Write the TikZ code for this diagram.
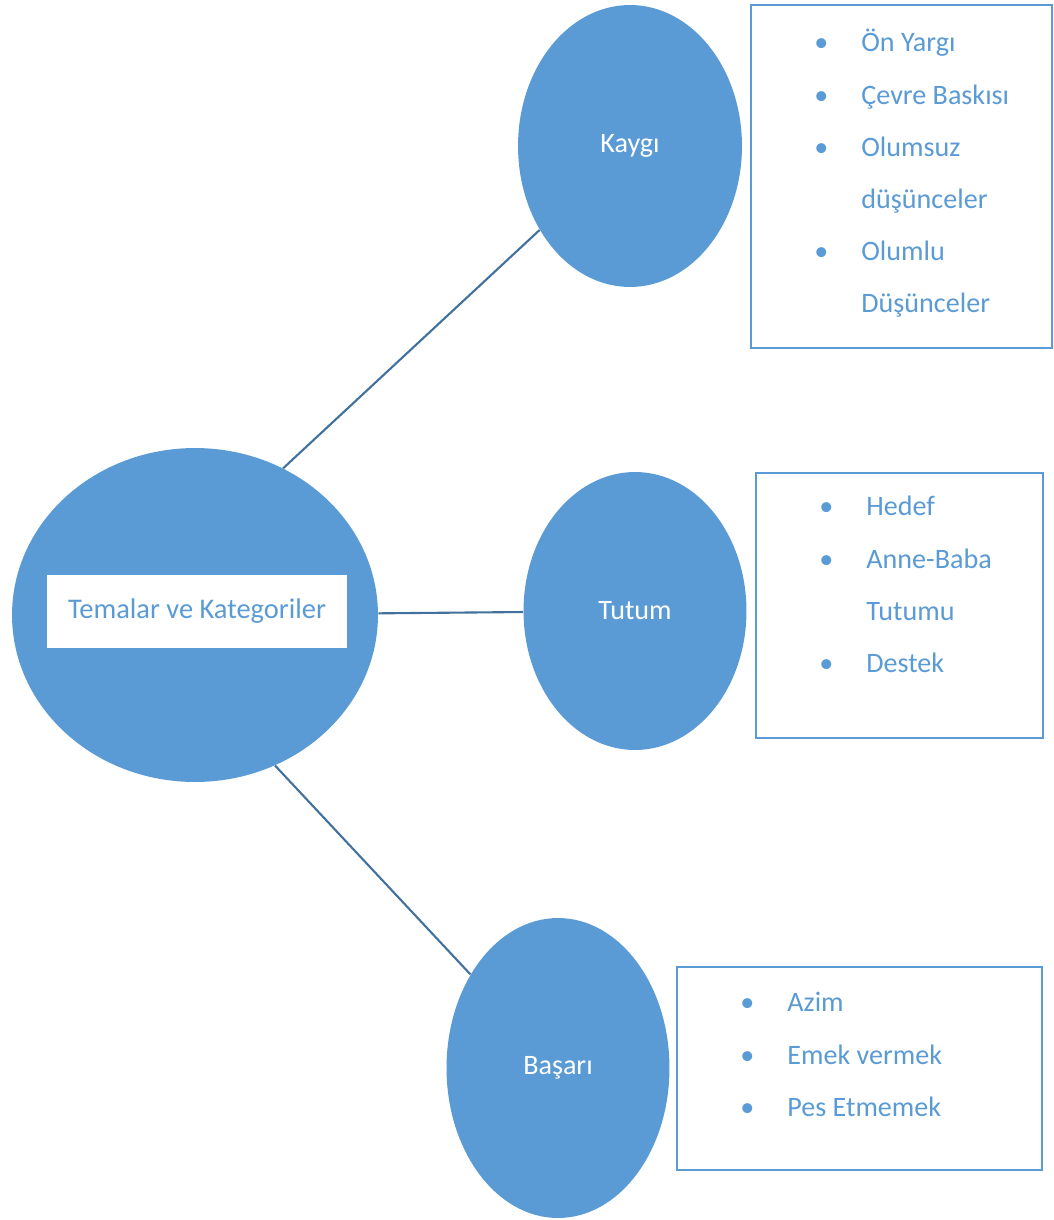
\documentclass[tikz,border=0pt]{standalone}
\usepackage{fontspec}
\setmainfont{Carlito}
\usepackage{tikz}
\usetikzlibrary{positioning,shapes.geometric}
\definecolor{thBlue}{HTML}{5B9BD5}
\definecolor{thLine}{HTML}{41719C}
\newcommand{\itemdot}{\makebox[0pt]{\textbullet}\hspace{0.8cm}}
\newcommand{\itemgap}{\hspace{0.8cm}}
\tikzset{
  % Theme ellipse (blue, white text)
  thell/.style={ellipse,inner sep=0pt,fill=thBlue,draw=none,
    font=\fontsize{16}{19}\selectfont,text=white},
  % White title label
  tlbl/.style={rectangle,inner sep=0pt,fill=white,
    minimum width=6.02cm,minimum height=1.46cm,
    font=\fontsize{16.2}{19}\selectfont,text=thBlue},
  % Category box (outlined)
  catbox/.style={rectangle,inner sep=0pt,draw=thBlue,line width=1.1pt,fill=white},
  % Bullet list inside a box
  itemlist/.style={inner sep=0pt,text=thBlue,
    font=\fontsize{16}{29.7}\selectfont},
  % Connectors
  conn/.style={line width=1.2pt,color=thLine},
}
\begin{document}
\begin{tikzpicture}[x=0.02cm,y=-0.02cm]
  \useasboundingbox (0,0) rectangle (1054,1220);

  % themes
  \node[thell,minimum width=7.32cm,minimum height=6.68cm] (main) at (195,615) {};
  \node[tlbl] (mainlbl) at (197,611) {Temalar ve Kategoriler};

  \node[thell,minimum width=4.48cm,minimum height=5.64cm] (kaygi) at (630,146) {Kaygı};
  \node[thell,minimum width=4.46cm,minimum height=5.56cm] (tutum) at (635,611) {Tutum};
  \node[thell,minimum width=4.46cm,minimum height=6.00cm] (basari) at (558,1068) {Başarı};

  % category boxes
  \node[catbox,minimum width=6.02cm,minimum height=6.86cm] (kaygibox) at (901.5,176.5) {};
  \node[catbox,minimum width=5.74cm,minimum height=5.30cm] (tutumbox) at (899.5,605.5) {};
  \node[catbox,minimum width=7.30cm,minimum height=4.06cm] (basaribox) at (859.5,1068.5) {};

  \node[itemlist,below right=0.22cm and 1.42cm of kaygibox.north west] (kaygilist)
    {\begin{tabular}{@{}l@{}}
     \itemdot Ön Yargı\\
     \itemdot Çevre Baskısı\\
     \itemdot Olumsuz\\
     \itemgap düşünceler\\
     \itemdot Olumlu\\
     \itemgap Düşünceler
     \end{tabular}};

  \node[itemlist,below right=0.14cm and 1.42cm of tutumbox.north west] (tutumlist)
    {\begin{tabular}{@{}l@{}}
     \itemdot Hedef\\
     \itemdot Anne-Baba\\
     \itemgap Tutumu\\
     \itemdot Destek
     \end{tabular}};

  \node[itemlist,below right=0.18cm and 1.42cm of basaribox.north west] (basarilist)
    {\begin{tabular}{@{}l@{}}
     \itemdot Azim\\
     \itemdot Emek vermek\\
     \itemdot Pes Etmemek
     \end{tabular}};

  \draw[conn] (main.59) -- (kaygi);
  \draw[conn] (main) -- (tutum);
  \draw[conn] (main.-62) -- (basari);
\end{tikzpicture}
\end{document}
